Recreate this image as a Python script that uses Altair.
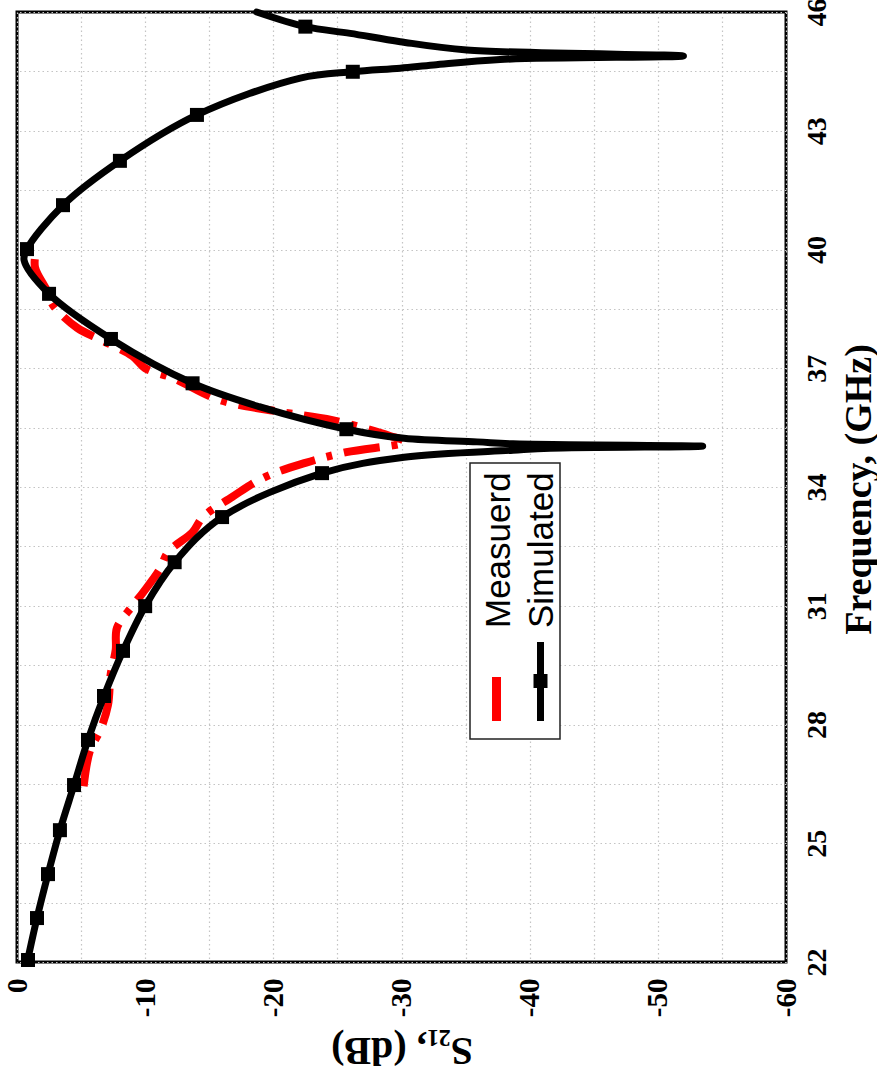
import altair as alt
import pandas as pd

# ---------------- data ----------------
sim_freq = [22.0, 23.11, 24.22, 25.33, 26.47, 27.61, 28.72, 29.86, 30.99, 32.10,
            33.24, 34.35, 34.75, 34.93, 34.98, 35.03, 35.09, 35.14, 35.23, 35.46,
            36.03, 36.62, 37.74, 38.88, 39.73, 40.01, 41.12, 42.24, 43.40, 44.33,
            44.49, 44.58, 44.66, 44.80, 44.89, 45.04, 45.25, 45.46, 45.63, 46.0]
sim_s21 = [-0.80, -1.56, -2.42, -3.35, -4.45, -5.54, -6.79, -8.27, -10.0, -12.3,
           -16.0, -23.8, -30.2, -38.7, -41.6, -53.5, -38.7, -35.9, -30.2, -25.7,
           -18.9, -13.7, -7.33, -2.50, -0.55, -0.78, -3.59, -8.03, -14.04, -22.1,
           -26.2, -29.9, -32.5, -37.7, -52.0, -35.1, -29.9, -26.0, -22.5, -18.7]

marker_freq = [22.05, 23.11, 24.22, 25.33, 26.47, 27.61, 28.72, 29.86, 30.99, 32.10, 33.24,
               34.35, 35.46, 36.62, 37.74, 38.88, 40.01, 41.12, 42.24, 43.40, 44.49, 45.63]
marker_s21 = [-0.86, -1.56, -2.42, -3.35, -4.45, -5.54, -6.79, -8.27, -10.0, -12.3, -16.0,
              -23.8, -25.7, -13.7, -7.33, -2.50, -0.78, -3.59, -8.03, -14.04, -26.2, -22.5]

meas_freq = [26.44, 27.35, 27.86, 28.49, 29.25, 29.88, 30.44, 30.99, 31.32, 31.90,
             32.36, 32.86, 33.24, 33.75, 34.23, 34.61, 34.88, 35.14, 35.29, 35.69,
             35.90, 36.20, 36.75, 37.00, 37.31, 37.71, 38.02, 38.60, 38.98, 39.56, 40.00]
meas_s21 = [-5.2, -5.7, -6.5, -7.1, -7.3, -7.7, -7.8, -9.0, -9.8, -11.1,
            -11.8, -13.7, -14.5, -16.8, -19.2, -22.5, -25.7, -30.3, -29.1, -24.6,
            -20.5, -15.8, -12.2, -10.0, -9.0, -6.6, -4.7, -2.8, -2.3, -1.4, -1.5]

x_grid = [0, -5, -10, -15, -20, -25, -30, -35, -40, -45, -50, -55, -60]
y_grid = [22, 23.5, 25, 26.5, 28, 29.5, 31, 32.5, 34, 35.5, 37, 38.5, 40, 41.5, 43, 44.5, 46]

legend_labels = ["Measuerd", "Simulated"]

# ---------------- chart ----------------
sim_df = pd.DataFrame({"freq": sim_freq, "s21": sim_s21})
mk_df = pd.DataFrame({"freq": marker_freq, "s21": marker_s21})
meas_df = pd.DataFrame({"freq": meas_freq, "s21": meas_s21})
one = pd.DataFrame({"k": [0]})

SERIF = "Liberation Serif"
SANS = "Liberation Sans"
GRID = "#c4c4c4"

x_scale = alt.Scale(domain=[0, -60], nice=False, zero=False)
y_scale = alt.Scale(domain=[22, 46], nice=False, zero=False)

x_axis = alt.Axis(
    values=x_grid,
    labelExpr="datum.value % 10 == 0 ? '' + datum.value : ''",
    labelAngle=270, labelAlign="right", labelBaseline="middle",
    labelFont=SERIF, labelFontWeight="bold", labelFontSize=29, labelColor="black",
    labelPadding=16, labelFlush=False, labelOverlap=False,
    ticks=False, domain=False,
    grid=True, gridColor=GRID, gridDash=[1.5, 3], gridWidth=1.2,
    title="S₂₁, (dB)", titleAngle=180, titleFont=SERIF, titleFontWeight="bold",
    titleFontSize=40, titleColor="black", titleAlign="center",
    titleBaseline="alphabetic", titleX=384.5, titleY=75,
)
y_axis = alt.Axis(
    orient="right",
    values=y_grid,
    labelExpr="datum.value % 3 == 1 ? '' + datum.value : ''",
    labelAngle=270, labelAlign="center", labelBaseline="alphabetic",
    labelFont=SERIF, labelFontWeight="bold", labelFontSize=28, labelColor="black",
    labelPadding=39, labelFlush=False, labelOverlap=False,
    ticks=False, domain=False,
    grid=True, gridColor=GRID, gridDash=[1.5, 3], gridWidth=1.2,
    title="Frequency, (GHz)", titleAngle=270, titleFont=SERIF, titleFontWeight="bold",
    titleFontSize=38, titleColor="black", titleAlign="center",
    titleBaseline="alphabetic", titleX=84, titleY=477,
)

meas = alt.Chart(meas_df).mark_line(
    color="#ff0000", strokeWidth=8, strokeDash=[36, 12, 6, 12], interpolate="catmull-rom"
).encode(
    x=alt.X("s21:Q", scale=x_scale, axis=x_axis),
    y=alt.Y("freq:Q", scale=y_scale, axis=y_axis),
    order=alt.Order("freq:Q"),
)

sim = alt.Chart(sim_df).mark_line(
    color="black", strokeWidth=7, interpolate="catmull-rom", strokeCap="round"
).encode(
    x=alt.X("s21:Q", scale=x_scale),
    y=alt.Y("freq:Q", scale=y_scale),
    order=alt.Order("freq:Q"),
)

marks = alt.Chart(mk_df).mark_point(
    shape="square", filled=True, size=196, color="black", opacity=1
).encode(
    x=alt.X("s21:Q", scale=x_scale),
    y=alt.Y("freq:Q", scale=y_scale),
)

# legend (drawn by hand, rotated like the reference)
leg_box = alt.Chart(one).mark_rect(fill="white", stroke="#222222", strokeWidth=1.5).encode(
    x=alt.value(453), x2=alt.value(543), y=alt.value(451), y2=alt.value(727)
)
leg_red = alt.Chart(one).mark_rule(color="#ff0000", strokeWidth=9).encode(
    x=alt.value(479.5), y=alt.value(665), y2=alt.value(709)
)
leg_black = alt.Chart(one).mark_rule(color="black", strokeWidth=7).encode(
    x=alt.value(523.5), y=alt.value(630), y2=alt.value(709)
)
leg_sq = alt.Chart(one).mark_point(shape="square", filled=True, size=196, color="black", opacity=1).encode(
    x=alt.value(523.5), y=alt.value(669)
)
leg_t1 = alt.Chart(one).mark_text(
    text=legend_labels[0], angle=270, align="left", baseline="alphabetic",
    font=SANS, fontSize=35, color="black"
).encode(x=alt.value(493), y=alt.value(616))
leg_t2 = alt.Chart(one).mark_text(
    text=legend_labels[1], angle=270, align="left", baseline="alphabetic",
    font=SANS, fontSize=35, color="black"
).encode(x=alt.value(536), y=alt.value(616))

chart = alt.layer(
    meas, sim, marks, leg_box, leg_red, leg_black, leg_sq, leg_t1, leg_t2
).properties(
    width=769, height=950,
    padding={"left": 17, "top": 12, "right": 91, "bottom": 120},
    autosize=alt.AutoSizeParams(type="none"),
    background="white",
).configure_view(
    stroke="black", strokeWidth=3
)

chart.save("out.html", embed_options={"renderer": "svg", "actions": False})
